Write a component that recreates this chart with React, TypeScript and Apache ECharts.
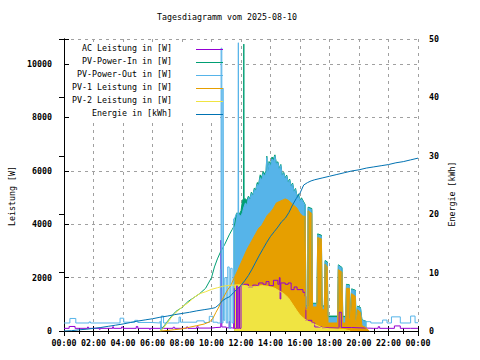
import React, { useEffect, useRef } from 'react';
import * as echarts from 'echarts';

const FONT = '"DejaVu Sans Mono", "Liberation Mono", monospace';

const titleText = 'Tagesdiagramm vom 2025-08-10';
const xTickLabels = ['00:00', '02:00', '04:00', '06:00', '08:00', '10:00', '12:00', '14:00', '16:00', '18:00', '20:00', '22:00', '00:00'];
const leftAxisName = 'Leistung [W]';
const rightAxisName = 'Energie [kWh]';
const legendNames = ['AC Leistung in [W]', 'PV-Power-In in [W]', 'PV-Power-Out in [W]', 'PV-1 Leistung in [W]', 'PV-2 Leistung in [W]', 'Energie in [kWh]'];

// [hour, W]
const acLeistung: [number, number][] = [
  [0, 100], [0.35, 170], [0.75, 100], [1.6, 150], [1.65, 100], [2.4, 60], [2.45, 100], [3.3, 160], [3.35, 100],
  [3.9, 150], [4.0, 100], [4.9, 170], [5.0, 100], [5.8, 60], [5.85, 100], [6.6, 150], [6.65, 100], [7.4, 140],
  [7.5, 100], [8.3, 150], [8.4, 100], [9.0, 160], [9.1, 110], [10.0, 130], [10.3, 140], [10.63, 3400], [10.67, 2900],
  [10.7, 150], [11.0, 120], [11.2, 350], [11.25, 120], [11.4, 100], [11.5, 1600], [11.55, 100], [11.7, 1700],
  [11.75, 100], [11.85, 1650], [11.9, 100], [12.0, 1720], [12.2, 1750], [12.5, 1650], [12.8, 1720], [13.0, 1700],
  [13.2, 1800], [13.5, 1750], [13.7, 1850], [13.9, 1700], [14.2, 1900], [14.5, 1750], [14.6, 2000], [14.65, 1200],
  [14.7, 1800], [15.0, 1750], [15.2, 1800], [15.4, 1550], [15.6, 1650], [15.8, 1550], [16.0, 1550], [16.2, 1450],
  [16.35, 1300], [16.4, 400], [16.8, 300], [17.0, 150], [17.5, 120], [18.0, 110], [18.6, 130], [18.65, 700],
  [18.8, 130], [19.5, 120], [20.0, 100], [21.0, 100], [21.3, 160], [21.4, 100], [22.0, 100], [22.4, 190],
  [22.8, 100], [23.5, 100], [24, 100],
];

const pvInMorning: [number, number][] = [
  [6.55, 0], [6.8, 200], [7.0, 350], [7.3, 560], [7.6, 740], [8.0, 880], [8.4, 1100], [8.8, 1250], [9.2, 1400],
  [9.6, 1600], [10.0, 2000], [10.2, 2400], [10.4, 2700], [10.6, 2950], [10.9, 3250], [11.2, 3600], [11.4, 3800], [11.55, 3950],
];
const pvInDay: [number, number][] = [
  [11.55, 3950], [11.7, 4420], [11.9, 4400], [12.0, 4500], [12.1, 4900], [12.17, 4950], [12.19, 10750], [12.21, 4950],
  [12.3, 4950], [12.4, 4900], [12.5, 5050], [12.6, 4950], [12.7, 5200], [12.8, 5100], [12.9, 5350], [13.0, 5300],
  [13.1, 5560], [13.2, 5520], [13.3, 5850], [13.4, 5750], [13.5, 5980], [13.6, 5880], [13.7, 6000], [13.75, 6550],
  [13.8, 6000], [13.9, 6350], [14.0, 6250], [14.1, 6520], [14.2, 6450], [14.3, 6600], [14.4, 6290], [14.5, 6340],
  [14.6, 6090], [14.7, 6240], [14.8, 5840], [14.9, 5940], [15.0, 5740], [15.1, 5840], [15.2, 5590], [15.3, 5690],
  [15.4, 5440], [15.5, 5540], [15.6, 5240], [15.7, 5340], [15.8, 5040], [15.9, 5140], [16.0, 4890], [16.1, 4990],
  [16.35, 4740], [16.4, 940], [16.52, 940], [16.55, 4640], [16.8, 4590], [16.85, 1040], [17.15, 1040], [17.2, 3640],
  [17.45, 3590], [17.5, 940], [17.65, 940], [17.7, 2640], [17.85, 2590], [17.9, 560], [18.55, 560], [18.6, 2480],
  [18.85, 2380], [18.9, 550], [19.1, 550], [19.15, 1750], [19.35, 1730], [19.4, 480], [19.5, 1580], [19.75, 1530],
  [19.8, 430], [19.9, 930], [20.1, 880], [20.2, 420], [20.5, 360],
];

const pvOutNight: [number, number][] = [
  [0, 300], [0.4, 470], [0.8, 300], [1.7, 340], [1.8, 300], [3.8, 480], [4.05, 330], [4.8, 400], [5.0, 320],
  [5.9, 300], [6.5, 360], [6.55, 0], [6.6, 560], [6.75, 300], [7.7, 310], [7.8, 520], [7.9, 330], [9.0, 380],
  [9.5, 320], [9.85, 550], [10.1, 330], [10.4, 300], [10.6, 2300], [10.65, 10600], [10.7, 300], [10.78, 9100],
  [10.82, 400], [10.9, 2000], [11.0, 300], [11.1, 2400], [11.2, 100], [11.3, 2350], [11.4, 300], [11.5, 4200],
];
const pvOutEvening: [number, number][] = [
  [20.5, 350], [20.8, 300], [21.6, 410], [21.9, 300], [22.2, 530], [22.8, 300], [23.5, 560], [23.8, 310], [24, 310],
];
const pvOutDay: [number, number][] = [
  [11.55, 4200], [11.7, 4400], [11.8, 4380], [11.82, 10800], [11.84, 4380], [11.9, 4350], [12.0, 4300], [12.1, 4450],
  [12.2, 4650], [12.3, 4800], [12.4, 4700], [12.5, 5000], [12.6, 4900], [12.7, 5150], [12.8, 5050], [12.9, 5300],
  [13.0, 5250], [13.1, 5500], [13.2, 5450], [13.3, 5750], [13.4, 5650], [13.5, 5900], [13.6, 5800], [13.7, 5950],
  [13.75, 6500], [13.8, 5950], [13.9, 6300], [14.0, 6150], [14.1, 6450], [14.2, 6350], [14.3, 6550], [14.4, 6250],
  [14.5, 6300], [14.6, 6050], [14.7, 6200], [14.8, 5800], [14.9, 5900], [15.0, 5700], [15.1, 5800], [15.2, 5550],
  [15.3, 5650], [15.4, 5400], [15.5, 5500], [15.6, 5200], [15.7, 5300], [15.8, 5000], [15.9, 5100], [16.0, 4850],
  [16.1, 4950], [16.35, 4700], [16.4, 900], [16.52, 900], [16.55, 4600], [16.8, 4550], [16.85, 1000], [17.15, 1000],
  [17.2, 3600], [17.45, 3550], [17.5, 900], [17.65, 900], [17.7, 2600], [17.85, 2550], [17.9, 500], [18.55, 500],
  [18.6, 2450], [18.85, 2350], [18.9, 500], [19.1, 500], [19.15, 1720], [19.35, 1700], [19.4, 450], [19.5, 1550],
  [19.75, 1500], [19.8, 400], [19.9, 900], [20.1, 850], [20.2, 400], [20.5, 350],
];

const pv1Morning: [number, number][] = [
  [6.5, 0], [7.0, 20], [7.5, 50], [8.0, 80], [8.5, 140], [9.0, 200], [9.5, 260], [9.9, 350], [10.1, 480], [10.3, 700],
  [10.5, 900], [10.7, 1150], [10.9, 1350], [11.1, 1550], [11.3, 1700], [11.55, 2000],
];
const pv1Day: [number, number][] = [
  [11.55, 2000], [11.8, 2300], [12.0, 2550], [12.2, 2800], [12.4, 3050], [12.6, 3250], [12.8, 3450], [13.0, 3650],
  [13.2, 3850], [13.4, 3950], [13.6, 4150], [13.8, 4350], [14.0, 4450], [14.2, 4600], [14.4, 4800], [14.6, 4850],
  [14.8, 4900], [15.0, 4950], [15.2, 4900], [15.4, 4800], [15.6, 4700], [15.8, 4600], [16.0, 4400], [16.2, 4300],
  [16.35, 4300], [16.4, 800], [16.52, 800], [16.55, 4500], [16.8, 4400], [16.85, 900], [17.15, 900], [17.2, 3500],
  [17.45, 3450], [17.5, 800], [17.65, 800], [17.7, 2500], [17.85, 2400], [17.9, 300], [18.55, 300], [18.6, 2300],
  [18.85, 2200], [18.9, 300], [19.1, 300], [19.15, 1600], [19.35, 1600], [19.4, 300], [19.5, 1400], [19.75, 1300],
  [19.8, 200], [19.9, 800], [20.1, 700], [20.2, 200], [20.4, 150], [20.7, 0],
];

const pv2Morning: [number, number][] = [
  [6.5, 0], [6.7, 80], [7.0, 300], [7.3, 520], [7.6, 700], [8.0, 900], [8.4, 1050], [8.8, 1250], [9.2, 1400],
  [9.6, 1470], [10.0, 1560], [10.4, 1620], [10.8, 1680], [11.2, 1710], [11.55, 1720],
];
const pv2Day: [number, number][] = [
  [11.55, 1720], [11.8, 1730], [12.0, 1720], [12.3, 1700], [12.6, 1650], [13.0, 1660], [13.4, 1700], [13.7, 1680],
  [14.0, 1650], [14.3, 1600], [14.6, 1500], [14.9, 1400], [15.2, 1250], [15.5, 1000], [15.8, 750], [16.0, 600],
  [16.3, 450], [16.6, 350], [17.0, 250], [17.5, 120], [18.0, 80], [19.0, 60], [19.4, 0],
];

// [hour, kWh]
const energie: [number, number][] = [
  [0, 0], [0.5, 0.05], [1, 0.2], [1.5, 0.3], [2, 0.45], [2.5, 0.6], [3, 0.8], [3.5, 1.0], [4, 1.2], [4.5, 1.45],
  [5, 1.7], [5.5, 1.9], [6, 2.1], [6.5, 2.35], [7, 2.55], [7.5, 2.8], [8, 3.0], [8.5, 3.2], [9, 3.45], [9.5, 3.65],
  [10, 3.85], [10.25, 4.0], [10.5, 4.5], [10.75, 5.2], [11, 5.6], [11.25, 5.9], [11.5, 6.6], [11.75, 7.2], [12, 7.8],
  [12.25, 8.6], [12.5, 9.5], [12.75, 10.6], [13, 11.8], [13.25, 13.0], [13.5, 14.1], [13.75, 15.2], [14, 16.2],
  [14.25, 17.0], [14.5, 17.8], [14.75, 18.7], [15, 19.3], [15.25, 20.3], [15.5, 21.6], [15.75, 22.7], [16, 23.6],
  [16.25, 25.0], [16.5, 25.4], [16.75, 25.7], [17, 25.9], [17.5, 26.2], [18, 26.5], [18.5, 26.8], [19, 27.1],
  [19.5, 27.4], [20, 27.6], [20.5, 27.9], [21, 28.1], [21.5, 28.3], [22, 28.5], [22.5, 28.8], [23, 29.0],
  [23.5, 29.3], [24, 29.6],
];

const COLORS = ['#9400d3', '#009e73', '#56b4e9', '#e69f00', '#f0e442', '#0072b2'];

function line(data: any[], color: string, extra: any = {}) {
  return {
    type: 'line',
    data,
    showSymbol: false,
    symbol: 'none',
    silent: true,
    connectNulls: false,
    lineStyle: { color, width: 1 },
    itemStyle: { color },
    emphasis: { disabled: true },
    ...extra,
  };
}
function area(data: any[], color: string) {
  return line(data, color, { areaStyle: { color, opacity: 1, origin: 'start' } });
}

export default function App() {
  const ref = useRef<HTMLDivElement>(null);
  useEffect(() => {
    if (!ref.current) return;
    const chart = echarts.init(ref.current, undefined, { renderer: 'svg' });
    const axisLine = { show: true, lineStyle: { color: '#000', width: 1 } };
    const tick = { show: true, inside: true, length: 5, lineStyle: { color: '#000', width: 1 } };
    const minor = { show: true, splitNumber: 2, length: 3, lineStyle: { color: '#000', width: 1 } };
    const grid = { show: true, lineStyle: { color: '#a0a0a0', width: 1, type: [3, 4] } };
    const labelStyle = { color: '#000', fontFamily: FONT, fontSize: 8.3, fontWeight: 'bold' };
    const txt = (text: string, x: number, y: number, align: string, rotation = 0) => ({
      type: 'text', x, y, rotation, silent: true, z: 10,
      style: { text, fill: '#000', font: `8.3px ${FONT}`, textAlign: align, textVerticalAlign: 'middle', align, verticalAlign: 'middle' },
    });
    const legendEls: any[] = [
      { type: 'rect', silent: true, z: 1, shape: { x: 70, y: 45, width: 150, height: 74 }, style: { fill: '#fff' } },
    ];
    legendNames.forEach((n, i) => {
      legendEls.push(txt(n, 172, 48 + i * 13, 'right'));
      legendEls.push({ type: 'line', silent: true, z: 10, shape: { x1: 196, y1: 49.5 + i * 13, x2: 223, y2: 49.5 + i * 13 }, style: { stroke: COLORS[i], lineWidth: 1 } });
    });
    const option: any = {
      animation: false,
      grid: { left: 64, right: 62, top: 39, bottom: 29, containLabel: false },
      xAxis: [
        {
          type: 'value', min: 0, max: 24, interval: 2, position: 'bottom',
          axisLine, axisTick: tick, minorTick: minor,
          axisLabel: { ...labelStyle, margin: 8, formatter: (v: number) => xTickLabels[Math.round(v / 2)] },
          splitLine: grid,
        },
        {
          type: 'value', min: 0, max: 24, interval: 2, position: 'top',
          axisLine, axisTick: tick, minorTick: minor, axisLabel: { show: false }, splitLine: { show: false },
        },
      ],
      yAxis: [
        {
          type: 'value', min: 0, max: 10940, interval: 2000, position: 'left',
          axisLine, axisTick: tick,
          axisLabel: { ...labelStyle, margin: 12, formatter: (v: number) => (v % 2000 === 0 ? String(v) : '') },
          splitLine: grid,
        },
        {
          type: 'value', min: 0, max: 50, interval: 10, position: 'right',
          axisLine, axisTick: tick,
          axisLabel: { ...labelStyle, margin: 11 },
          splitLine: { show: false },
        },
      ],
      graphic: [
        txt(titleText, 227, 17, 'center'),
        txt(leftAxisName, 12, 196, 'center', Math.PI / 2),
        txt(rightAxisName, 452, 194, 'center', Math.PI / 2),
        ...legendEls,
      ],
      series: [
        line(acLeistung, COLORS[0], { step: 'end' }),
        line(pvInMorning, COLORS[1]),
        area(pvInDay, COLORS[1]),
        line([...pvOutNight, [11.55, null], ...pvOutEvening], COLORS[2], { step: 'end' }),
        area(pvOutDay, COLORS[2]),
        line(pv1Morning, COLORS[3]),
        area(pv1Day, COLORS[3]),
        line(pv2Morning, COLORS[4]),
        area(pv2Day, COLORS[4]),
        line(energie, COLORS[5], { yAxisIndex: 1 }),
      ],
    };
    chart.setOption(option);
    return () => chart.dispose();
  }, []);
  return <div ref={ref} style={{ position: 'fixed', left: 0, top: 0, width: 480, height: 360, background: '#fff' }} />;
}
